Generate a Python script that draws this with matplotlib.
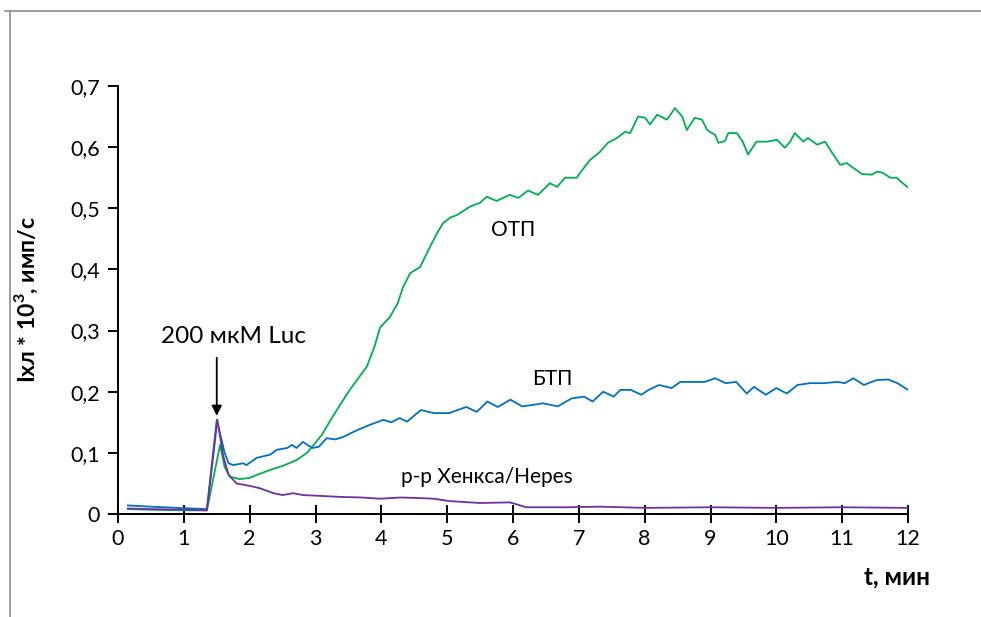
import matplotlib.pyplot as plt
from matplotlib.lines import Line2D

plt.rcParams['font.family'] = ['Lato', 'DejaVu Sans']
plt.rcParams['mathtext.fontset'] = 'custom'
plt.rcParams['mathtext.bf'] = 'Lato:bold'
plt.rcParams['mathtext.rm'] = 'Lato'

# ОТП (green)
t_otp = [0.15, 0.5, 1.0, 1.35, 1.55, 1.62, 1.7, 1.85, 2.0, 2.11, 2.31, 2.51, 2.71, 2.87,
         2.95, 3.1, 3.22, 3.37, 3.52, 3.65, 3.78, 3.9, 3.98, 4.13, 4.25, 4.33, 4.44, 4.59,
         4.74, 4.85, 4.94, 5.05, 5.15, 5.35, 5.5, 5.6, 5.75, 5.95, 6.08, 6.23, 6.38, 6.56,
         6.67, 6.79, 6.97, 7.02, 7.17, 7.32, 7.44, 7.58, 7.7, 7.78, 7.9, 8.01, 8.08, 8.19,
         8.34, 8.46, 8.57, 8.64, 8.76, 8.87, 8.95, 9.07, 9.12, 9.22, 9.27, 9.4, 9.49, 9.57,
         9.7, 9.86, 10.01, 10.13, 10.21, 10.28, 10.41, 10.48, 10.62, 10.74, 10.84, 10.97,
         11.07, 11.17, 11.3, 11.45, 11.53, 11.62, 11.73, 11.83, 11.91, 12.0]
v_otp = [0.008, 0.007, 0.006, 0.006, 0.113, 0.077, 0.061, 0.057, 0.059, 0.064, 0.072, 0.079,
         0.088, 0.1, 0.11, 0.13, 0.152, 0.178, 0.203, 0.222, 0.241, 0.275, 0.305, 0.322,
         0.345, 0.371, 0.394, 0.404, 0.437, 0.46, 0.476, 0.485, 0.489, 0.503, 0.509, 0.519,
         0.512, 0.522, 0.517, 0.529, 0.522, 0.541, 0.535, 0.55, 0.55, 0.558, 0.579, 0.592,
         0.607, 0.615, 0.625, 0.623, 0.65, 0.648, 0.637, 0.653, 0.645, 0.664, 0.65, 0.628,
         0.648, 0.645, 0.628, 0.62, 0.607, 0.61, 0.623, 0.623, 0.609, 0.588, 0.609, 0.609,
         0.612, 0.599, 0.609, 0.623, 0.609, 0.615, 0.604, 0.609, 0.592, 0.571, 0.574, 0.566,
         0.556, 0.555, 0.56, 0.558, 0.55, 0.55, 0.542, 0.534]

# БТП (blue)
t_btp = [0.15, 0.5, 0.9, 1.35, 1.5, 1.62, 1.68, 1.75, 1.9, 1.95, 2.11, 2.31, 2.41, 2.57,
         2.64, 2.71, 2.81, 2.89, 2.96, 3.05, 3.17, 3.3, 3.42, 3.63, 3.83, 4.03, 4.15, 4.28,
         4.39, 4.6, 4.8, 5.03, 5.29, 5.45, 5.61, 5.77, 5.96, 6.14, 6.46, 6.68, 6.89, 7.08,
         7.21, 7.37, 7.53, 7.63, 7.79, 7.95, 8.06, 8.22, 8.41, 8.54, 8.75, 8.91, 9.07, 9.23,
         9.39, 9.55, 9.66, 9.84, 10.0, 10.16, 10.32, 10.51, 10.72, 10.93, 11.04, 11.17,
         11.33, 11.52, 11.7, 11.84, 12.0]
v_btp = [0.014, 0.012, 0.01, 0.008, 0.154, 0.1, 0.083, 0.08, 0.083, 0.08, 0.092, 0.097,
         0.105, 0.108, 0.113, 0.108, 0.118, 0.112, 0.108, 0.11, 0.124, 0.122, 0.126, 0.137,
         0.146, 0.154, 0.15, 0.157, 0.151, 0.17, 0.165, 0.165, 0.175, 0.167, 0.184, 0.175,
         0.187, 0.176, 0.181, 0.176, 0.189, 0.192, 0.184, 0.2, 0.192, 0.203, 0.203, 0.195,
         0.203, 0.211, 0.206, 0.216, 0.216, 0.216, 0.222, 0.214, 0.216, 0.197, 0.208, 0.195,
         0.206, 0.197, 0.211, 0.214, 0.214, 0.216, 0.214, 0.222, 0.211, 0.219, 0.22, 0.214,
         0.203]

# р-р Хенкса/Hepes (purple)
t_hep = [0.15, 0.5, 1.0, 1.35, 1.51, 1.6, 1.68, 1.8, 2.0, 2.16, 2.36, 2.5, 2.66, 2.81, 3.0,
         3.37, 3.7, 3.98, 4.3, 4.59, 4.8, 5.04, 5.5, 5.95, 6.05, 6.2, 6.82, 7.32, 8.0, 9.0,
         10.0, 11.0, 12.0]
v_hep = [0.009, 0.008, 0.007, 0.006, 0.154, 0.094, 0.064, 0.05, 0.046, 0.042, 0.034, 0.031,
         0.034, 0.031, 0.03, 0.028, 0.027, 0.025, 0.027, 0.026, 0.025, 0.021, 0.018, 0.019,
         0.016, 0.011, 0.011, 0.012, 0.01, 0.011, 0.01, 0.011, 0.01]

fig = plt.figure(figsize=(9.81, 6.17), dpi=100)
ax = fig.add_axes([118 / 981, 1 - 514 / 617, 790 / 981, 428 / 617])

ax.plot(t_otp, v_otp, color='#00B050', lw=1.3)
ax.plot(t_btp, v_btp, color='#0070C0', lw=1.3)
ax.plot(t_hep, v_hep, color='#7030A0', lw=1.3)

ax.set_xlim(0, 12)
ax.set_ylim(0, 0.7)
ax.set_xticks(range(13))
ax.set_yticks([i / 10 for i in range(8)])
ax.set_yticklabels(['0'] + ['0,%d' % i for i in range(1, 8)])
ax.tick_params(axis='y', direction='out', length=7, width=1.4, labelsize=15.5, pad=6)
ax.tick_params(axis='x', direction='inout', length=13, width=1.4, labelsize=15.5, pad=4)
for s in ['top', 'right']:
    ax.spines[s].set_visible(False)
for s in ['left', 'bottom']:
    ax.spines[s].set_linewidth(1.4)

ax.set_ylabel(r'Iхл * 10$^{\mathbf{3}}$, имп/с', fontsize=16.5, fontweight='bold')
ax.yaxis.set_label_coords(-0.099, 0.5)
fig.text(930 / 981, 1 - 577 / 617, 't, мин', fontsize=17.5, fontweight='bold',
         ha='right', va='center')

ax.annotate('', xy=(1.5, 0.156), xytext=(1.5, 0.26),
            arrowprops=dict(arrowstyle='-|>', color='black', lw=1.3, mutation_scale=15))
ax.text(1.75, 0.29, '200 мкМ Luc', fontsize=17.5, ha='center', va='center')
ax.text(6.0, 0.465, 'ОТП', fontsize=15, ha='center', va='center')
ax.text(6.6, 0.22, 'БТП', fontsize=15, ha='center', va='center')
ax.text(5.6, 0.06, 'р-р Хенкса/Hepes', fontsize=15, ha='center', va='center')

fig.add_artist(Line2D([10 / 981, 10 / 981], [0, 1 - 11 / 617], color='#8c8c8c', lw=1.2))
fig.add_artist(Line2D([5 / 981, 1], [1 - 11 / 617, 1 - 11 / 617], color='#8c8c8c', lw=1.2))

fig.savefig('out.png', dpi=100)
